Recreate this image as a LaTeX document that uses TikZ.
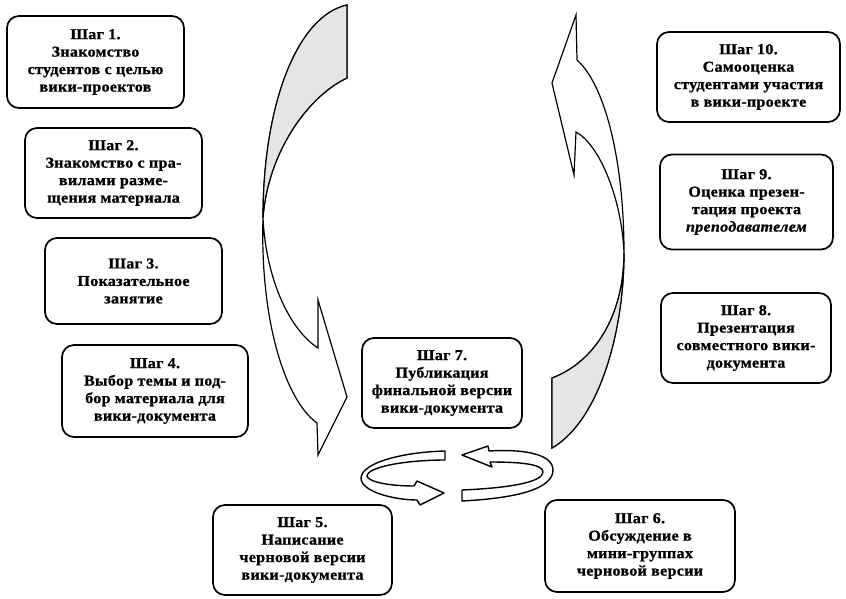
\documentclass[tikz,border=0pt]{standalone}
\usepackage{fontspec}
\setmainfont{Liberation Serif}[FakeStretch=1.07,LetterSpace=2,FakeBold=1]
\begin{document}
\begin{tikzpicture}[x=1pt,y=-1pt,
  stepbox/.style={draw, line width=1.7pt, rounded corners=12pt, align=center,
    font=\bfseries\fontsize{15}{17.5}\selectfont, inner sep=0pt, fill=white},
  bigarrow/.style={draw, line width=1.2pt, fill=white, line join=miter},
  lens/.style={fill=black!10, draw=none},
  smallarrow/.style={draw, line width=1.4pt, fill=white, line join=round}]
\useasboundingbox (0,0) rectangle (846,599);

% ---- big left arrow ----
\coordinate (LTa) at (347,5);
\coordinate (LTb) at (347,78);
\coordinate (LN) at (263,218);
\coordinate (LNotch) at (318,348);
\coordinate (LUB) at (318,300);
\coordinate (LTip) at (347,397);
\coordinate (LLB) at (318,455);
\coordinate (LOE) at (317,423);
\path[bigarrow] (LTa) .. controls (297,16) and (263,105) .. (LN)
  .. controls (266,280) and (290,330) .. (LNotch) -- (LUB) -- (LTip) -- (LLB) -- (LOE)
  .. controls (285,400) and (260,320) .. (LN)
  .. controls (268,150) and (310,95) .. (LTb) -- cycle;
\path[lens] (LTa) .. controls (297,16) and (263,105) .. (LN)
  .. controls (268,150) and (310,95) .. (LTb) -- cycle;
\draw[line width=1.2pt] (LTa) .. controls (297,16) and (263,105) .. (LN)
  .. controls (268,150) and (310,95) .. (LTb) -- cycle;

% ---- big right arrow ----
\coordinate (RUB) at (576,15);
\coordinate (ROS) at (577,60);
\coordinate (RTip) at (552,83);
\coordinate (RN) at (576,132);
\coordinate (RLB) at (574,175);
\coordinate (RNar) at (624,253);
\coordinate (RT1) at (552,378);
\coordinate (RT2) at (552,448);
\path[bigarrow] (RUB) -- (RTip) -- (RLB) -- (RN)
  .. controls (600,145) and (622,200) .. (RNar)
  .. controls (624,330) and (600,420) .. (RT2) -- (RT1)
  .. controls (595,362) and (624,315) .. (RNar)
  .. controls (624,160) and (605,85) .. (ROS) -- cycle;
\path[lens] (RNar) .. controls (624,330) and (600,420) .. (RT2) -- (RT1)
  .. controls (595,362) and (624,315) .. (RNar) -- cycle;
\draw[line width=1.2pt] (RNar) .. controls (624,330) and (600,420) .. (RT2) -- (RT1)
  .. controls (595,362) and (624,315) .. (RNar);

% ---- small circular arrows ----
\path[smallarrow] (445,451) .. controls (405,452) and (362,462) .. (361,478)
  .. controls (361,492) and (395,500) .. (417,500) -- (420,505) -- (444,493)
  -- (417,481) -- (414,486) .. controls (390,486) and (368,482) .. (367,476)
  .. controls (368,466) and (410,460) .. (445,460) -- cycle;
\path[smallarrow] (462,455) -- (488,446) -- (489,451)
  .. controls (520,449) and (553,453) .. (553,470)
  .. controls (553,488) and (520,498) .. (462,501) -- (462,490)
  .. controls (510,488) and (543,482) .. (543,472)
  .. controls (543,464) and (520,462) .. (490,462) -- (492,467) -- cycle;

% ---- step boxes ----
\node[stepbox, minimum width=177, minimum height=92] (s1) at (95.5,62)
  {Шаг 1.\\Знакомство\\студентов с целью\\вики-проектов};
\node[stepbox, minimum width=177, minimum height=90] (s2) at (113.5,173)
  {Шаг 2.\\Знакомство с пра-\\вилами разме-\\щения материала};
\node[stepbox, minimum width=177, minimum height=86] (s3) at (133.5,281)
  {Шаг 3.\\Показательное\\занятие};
\node[stepbox, minimum width=186, minimum height=92] (s4) at (155,391)
  {Шаг 4.\\Выбор темы и под-\\бор материала для\\вики-документа};
\node[stepbox, minimum width=179, minimum height=90] (s5) at (302.5,550)
  {Шаг 5.\\Написание\\черновой версии\\вики-документа};
\node[stepbox, minimum width=190, minimum height=92] (s6) at (640,546)
  {Шаг 6.\\Обсуждение в\\мини-группах\\черновой версии};
\node[stepbox, minimum width=160, minimum height=90] (s7) at (442,383)
  {Шаг 7.\\Публикация\\финальной версии\\вики-документа};
\node[stepbox, minimum width=170, minimum height=90] (s8) at (746,338)
  {Шаг 8.\\Презентация\\совместного вики-\\документа};
\node[stepbox, minimum width=173, minimum height=95] (s9) at (746.5,202)
  {Шаг 9.\\Оценка презен-\\тация проекта\\\textit{преподавателем}};
\node[stepbox, minimum width=183, minimum height=90] (s10) at (748.5,77)
  {Шаг 10.\\Самооценка\\студентами участия\\в вики-проекте};
\end{tikzpicture}
\end{document}
